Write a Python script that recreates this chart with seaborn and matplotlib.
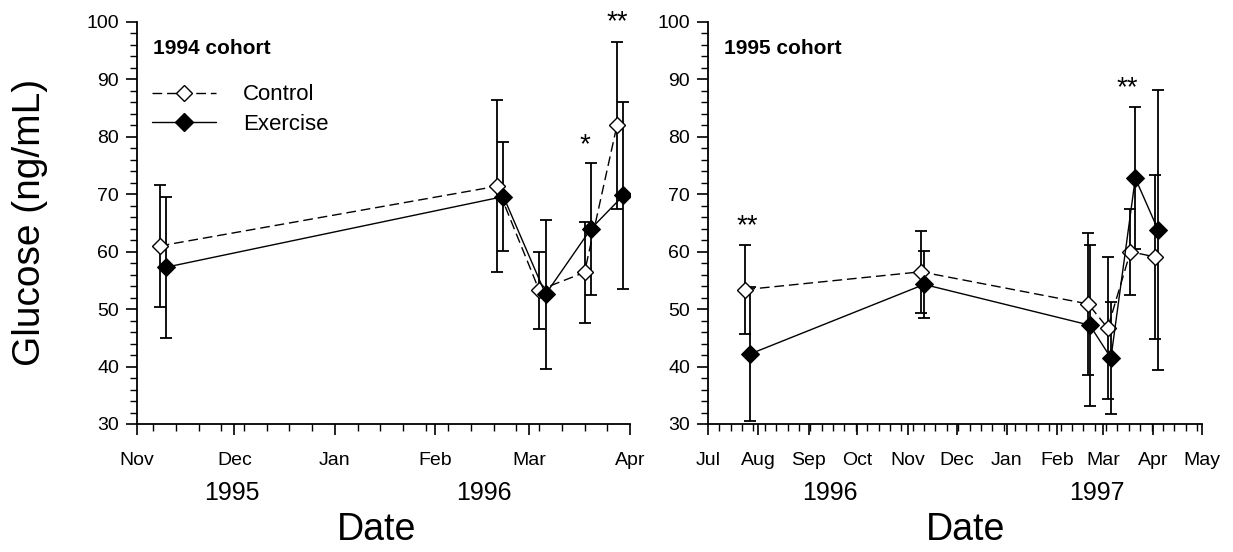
import matplotlib
matplotlib.use("Agg")
import matplotlib.pyplot as plt
import matplotlib.dates as mdates
from matplotlib.lines import Line2D
from matplotlib.ticker import MultipleLocator
import seaborn as sns
import pandas as pd

# ---- data: 1994 cohort ----
c94_dates = ["1995-11-08", "1996-02-20", "1996-03-04", "1996-03-18", "1996-03-28"]
c94_vals = [61.0, 71.4, 53.3, 56.4, 82.0]
c94_err = [10.7, 15.0, 6.7, 8.8, 14.5]
e94_dates = ["1995-11-10", "1996-02-22", "1996-03-06", "1996-03-20", "1996-03-30"]
e94_vals = [57.3, 69.6, 52.6, 64.0, 69.8]
e94_err = [12.3, 9.5, 13.0, 11.5, 16.3]

# ---- data: 1995 cohort ----
c95_dates = ["1996-07-24", "1996-11-09", "1997-02-20", "1997-03-04", "1997-03-18", "1997-04-02"]
c95_vals = [53.4, 56.5, 50.9, 46.7, 60.0, 59.1]
c95_err = [7.8, 7.1, 12.4, 12.4, 7.5, 14.3]
e95_dates = ["1996-07-27", "1996-11-11", "1997-02-21", "1997-03-06", "1997-03-21", "1997-04-04"]
e95_vals = [42.2, 54.3, 47.2, 41.5, 72.8, 63.8]
e95_err = [11.6, 5.9, 14.0, 9.8, 12.4, 24.4]

# significance markers (date, y, text)
stars94 = [("1996-03-18", 78.5, "*"), ("1996-03-28", 100.0, "**")]
stars95 = [("1996-07-25", 64.5, "**"), ("1997-03-16", 88.5, "**")]

panels = [
    dict(title="1994 cohort", c=(c94_dates, c94_vals, c94_err), e=(e94_dates, e94_vals, e94_err),
         xlim=("1995-11-01", "1996-04-01"), stars=stars94),
    dict(title="1995 cohort", c=(c95_dates, c95_vals, c95_err), e=(e95_dates, e95_vals, e95_err),
         xlim=("1996-07-01", "1997-05-01"), stars=stars95),
]

sns.set_theme(style="ticks")
FONT = ["Liberation Sans", "DejaVu Sans"]
plt.rcParams["font.family"] = FONT
plt.rcParams["text.color"] = "black"
plt.rcParams["axes.labelcolor"] = "black"
plt.rcParams["xtick.color"] = "black"
plt.rcParams["ytick.color"] = "black"

DASH = (0, (7, 3.5))

fig = plt.figure(figsize=(12.33, 5.52), dpi=100)
axes = [fig.add_axes([0.1111, 0.2319, 0.3998, 0.7283]),
        fig.add_axes([0.5742, 0.2319, 0.4006, 0.7283])]

for ax, p in zip(axes, panels):
    cd, cv, ce = p["c"]
    ed, ev, ee = p["e"]
    cdf = pd.DataFrame({"date": pd.to_datetime(cd), "glucose": cv, "err": ce})
    edf = pd.DataFrame({"date": pd.to_datetime(ed), "glucose": ev, "err": ee})

    ax.errorbar(cdf["date"], cdf["glucose"], yerr=cdf["err"], fmt="none", ecolor="black",
                elinewidth=1.3, capsize=4, capthick=1.3, zorder=1)
    ax.errorbar(edf["date"], edf["glucose"], yerr=edf["err"], fmt="none", ecolor="black",
                elinewidth=1.3, capsize=4, capthick=1.3, zorder=1)
    sns.lineplot(data=cdf, x="date", y="glucose", ax=ax, color="black", linewidth=1.0,
                 linestyle=DASH, marker="D", markersize=8, markerfacecolor="white",
                 markeredgecolor="black", markeredgewidth=1.0, zorder=3)
    sns.lineplot(data=edf, x="date", y="glucose", ax=ax, color="black", linewidth=1.0,
                 marker="D", markersize=9.5, markerfacecolor="black",
                 markeredgecolor="black", zorder=4)

    ax.set_xlim(pd.Timestamp(p["xlim"][0]), pd.Timestamp(p["xlim"][1]))
    ax.set_ylim(30, 100)
    ax.yaxis.set_major_locator(MultipleLocator(10))
    ax.yaxis.set_minor_locator(MultipleLocator(2))
    ax.xaxis.set_major_locator(mdates.MonthLocator())
    ax.xaxis.set_major_formatter(mdates.DateFormatter("%b"))
    ax.xaxis.set_minor_locator(mdates.WeekdayLocator(byweekday=mdates.MO))
    ax.tick_params(axis="both", which="major", direction="out", length=8, width=1.2,
                   labelsize=14, colors="black", pad=5)
    ax.tick_params(axis="x", which="major", pad=12)
    ax.tick_params(axis="both", which="minor", direction="out", length=5, width=1.0)
    ax.set_xlabel("")
    ax.set_ylabel("")
    for s in ["top", "right"]:
        ax.spines[s].set_visible(False)
    for s in ["left", "bottom"]:
        ax.spines[s].set_color("black")
        ax.spines[s].set_linewidth(1.3)
    ax.set_facecolor("white")

    ax.text(0.032, 0.935, p["title"], transform=ax.transAxes, fontsize=15,
            fontweight="bold", ha="left", va="center", color="black")
    for d, y, t in p["stars"]:
        ax.text(pd.Timestamp(d), y, t, fontsize=20, ha="center", va="center",
                color="black", clip_on=False)

# legend on the left panel
handles = [
    Line2D([], [], color="black", linewidth=1.0, linestyle=DASH, marker="D",
           markersize=8, markerfacecolor="white", markeredgecolor="black"),
    Line2D([], [], color="black", linewidth=1.0, marker="D", markersize=9.5,
           markerfacecolor="black", markeredgecolor="black"),
]
axes[0].legend(handles, ["Control", "Exercise"], loc="upper left",
               bbox_to_anchor=(0.03, 0.845), frameon=False, fontsize=16,
               handlelength=2.9, handletextpad=1.2, labelspacing=0.4,
               borderpad=0, borderaxespad=0)

# year labels and axis titles
for x, t in [(232, "1995"), (484, "1996"), (830, "1996"), (1097, "1997")]:
    fig.text(x / 1233, 1 - 493 / 552, t, fontsize=18, ha="center", va="center")
for x in [377, 966]:
    fig.text(x / 1233, 1 - 530 / 552, "Date", fontsize=27, ha="center", va="center")
fig.text(30 / 1233, 1 - 222 / 552, "Glucose (ng/mL)", fontsize=28, rotation=90,
         ha="center", va="center")

fig.patch.set_facecolor("white")
fig.savefig("out.png", dpi=100, facecolor="white")
